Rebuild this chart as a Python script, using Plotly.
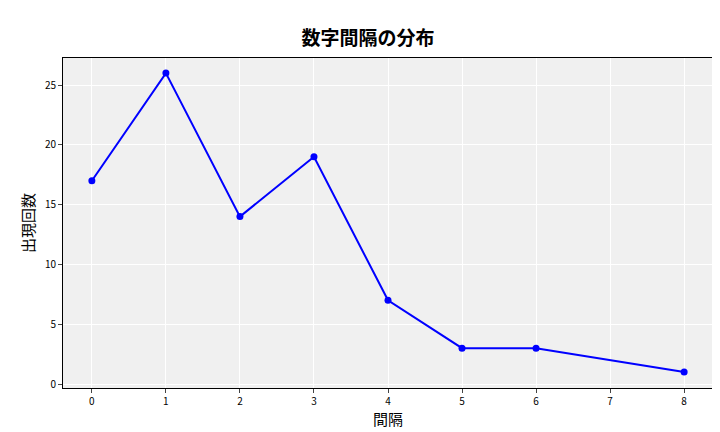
import plotly.graph_objects as go

intervals = [0, 1, 2, 3, 4, 5, 6, 8]
counts = [17, 26, 14, 19, 7, 3, 3, 1]

fig = go.Figure(go.Scatter(x=intervals, y=counts, mode="lines+markers",
    line=dict(color="blue", width=2), marker=dict(color="blue", size=7)))
fig.update_layout(
    width=720, height=432, margin=dict(l=55, r=15, t=50, b=52, autoexpand=False),
    paper_bgcolor="white", plot_bgcolor="#f0f0f0",
    font=dict(family="Noto Sans CJK JP", size=10, color="black"),
    title=dict(text="<b>数字間隔の分布</b>", x=0.5, xanchor="center", y=0.945, font=dict(size=19)),
    showlegend=False,
)
fig.update_xaxes(range=[-0.39, 8.39], tickvals=list(range(9)), gridcolor="white",
    title=dict(text="間隔", font=dict(size=15), standoff=4), showline=True, linecolor="black", mirror=True,
    ticks="outside", ticklen=4, zeroline=False, automargin=False)
fig.update_yaxes(range=[-0.33, 27.26], tickvals=[0, 5, 10, 15, 20, 25], gridcolor="white",
    title=dict(text="出現回数", font=dict(size=15), standoff=6), showline=True, linecolor="black", mirror=True,
    ticks="outside", ticklen=4, zeroline=False, automargin=False)
fig.write_html("out.html")
